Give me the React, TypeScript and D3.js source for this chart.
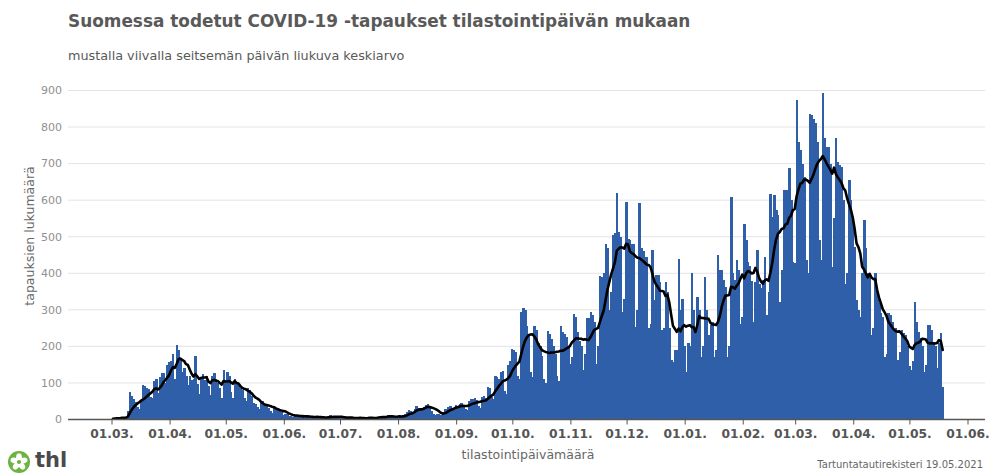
import * as d3 from "d3";

// daily cases by sampling date, one array per month
const mar20 = [2, 3, 4, 5, 6, 8, 5, 4, 22, 75, 64, 55, 48, 35, 30, 52, 95, 92, 86, 84, 62, 58, 104, 110, 72, 115, 127, 128, 100, 150, 158];
const apr20 = [160, 180, 110, 205, 190, 165, 130, 140, 120, 95, 118, 108, 112, 175, 98, 70, 115, 125, 108, 120, 92, 68, 118, 128, 110, 100, 85, 60, 136, 108];
const may20 = [130, 118, 75, 60, 110, 100, 95, 85, 80, 58, 50, 85, 80, 65, 45, 42, 35, 30, 45, 50, 40, 38, 32, 22, 18, 35, 28, 25, 22, 20, 12];
const jun20 = [15, 14, 10, 9, 7, 12, 11, 10, 9, 6, 5, 10, 9, 8, 7, 5, 4, 9, 7, 6, 5, 4, 3, 7, 12, 10, 9, 5, 4, 6];
const jul20 = [8, 5, 4, 3, 6, 5, 4, 3, 2, 5, 6, 4, 3, 2, 5, 7, 6, 4, 3, 6, 8, 10, 9, 6, 5, 12, 10, 8, 7, 5, 9];
const aug20 = [10, 8, 12, 15, 20, 25, 22, 18, 30, 38, 32, 28, 26, 35, 40, 42, 38, 22, 15, 12, 14, 16, 12, 20, 30, 28, 34, 38, 30, 26, 40];
const sep20 = [38, 42, 45, 40, 28, 26, 50, 56, 55, 58, 52, 36, 32, 62, 64, 60, 88, 85, 62, 55, 120, 116, 112, 130, 134, 78, 70, 150, 161, 193];
const oct20 = [190, 185, 120, 110, 295, 305, 300, 257, 230, 130, 115, 255, 245, 210, 200, 175, 110, 100, 243, 235, 220, 200, 180, 120, 105, 255, 238, 234, 225, 200, 152];
const nov20 = [170, 289, 280, 240, 215, 200, 135, 180, 277, 277, 295, 285, 268, 153, 200, 392, 389, 400, 480, 470, 300, 350, 505, 509, 620, 514, 500, 295, 330, 596];
const dec20 = [495, 490, 480, 481, 254, 300, 591, 468, 462, 445, 445, 249, 260, 463, 327, 395, 395, 377, 245, 250, 377, 350, 250, 163, 158, 190, 190, 438, 300, 330, 200];
const jan21 = [131, 208, 200, 400, 300, 236, 336, 300, 172, 200, 389, 300, 231, 258, 268, 172, 190, 450, 409, 409, 381, 363, 172, 200, 608, 400, 381, 436, 409, 260, 281];
const feb21 = [536, 491, 430, 420, 380, 268, 377, 464, 370, 360, 381, 445, 286, 350, 618, 555, 613, 573, 560, 322, 409, 628, 628, 628, 687, 600, 432, 427];
const mar21 = [873, 760, 737, 700, 664, 436, 400, 837, 833, 821, 810, 760, 491, 436, 894, 769, 746, 746, 700, 418, 550, 770, 705, 696, 690, 600, 372, 400, 656, 600, 546];
const apr21 = [473, 327, 300, 280, 400, 547, 468, 400, 392, 231, 250, 400, 340, 320, 290, 280, 172, 180, 290, 286, 268, 245, 250, 163, 185, 245, 236, 230, 200, 145];
const may21 = [135, 160, 322, 268, 240, 222, 200, 130, 150, 258, 258, 245, 213, 200, 140, 208, 236, 90];

const months: [number, number, number[]][] = [
  [2020, 2, mar20], [2020, 3, apr20], [2020, 4, may20], [2020, 5, jun20],
  [2020, 6, jul20], [2020, 7, aug20], [2020, 8, sep20], [2020, 9, oct20],
  [2020, 10, nov20], [2020, 11, dec20], [2021, 0, jan21], [2021, 1, feb21],
  [2021, 2, mar21], [2021, 3, apr21], [2021, 4, may21],
];

const yTicks = [0, 100, 200, 300, 400, 500, 600, 700, 800, 900];

const title = "Suomessa todetut COVID-19 -tapaukset tilastointipäivän mukaan";
const subtitle = "mustalla viivalla seitsemän päivän liukuva keskiarvo";
const yTitle = "tapauksien lukumäärä";
const xTitle = "tilastointipäivämäärä";
const source = "Tartuntatautirekisteri 19.05.2021";

const font = "DejaVu Sans, sans-serif";
const barColor = "#2f5fa8";

type Day = { date: Date; value: number; avg: number };

const days: Day[] = [];
months.forEach(([yr, mo, vals]) => {
  vals.forEach((v, i) => days.push({ date: new Date(Date.UTC(yr, mo, i + 1)), value: v, avg: 0 }));
});
// trailing 7 day mean
days.forEach((d, i) => {
  const win = days.slice(Math.max(0, i - 6), i + 1);
  d.avg = d3.mean(win, (w) => w.value) ?? 0;
});

const x = d3
  .scaleUtc()
  .domain([new Date(Date.UTC(2020, 2, 1)), new Date(Date.UTC(2021, 5, 1))])
  .range([112, 968]);
const y = d3.scaleLinear().domain([0, 900]).range([419.5, 90.5]);
const dayW = x(new Date(Date.UTC(2020, 2, 2))) - x(new Date(Date.UTC(2020, 2, 1)));

const monthTicks = d3.utcMonth.range(new Date(Date.UTC(2020, 2, 1)), new Date(Date.UTC(2021, 5, 2)));
const fmt = d3.utcFormat("%d.%m.");

const line = d3
  .line<Day>()
  .x((d) => x(d.date) + dayW / 2)
  .y((d) => y(d.avg));

export default function App() {
  return (
    <svg width={991} height={473} style={{ position: "absolute", left: 0, top: 0, background: "#fff" }} fontFamily={font}>
      <text x={68} y={27} fontSize={16.9} fontWeight="bold" fill="#595959">{title}</text>
      <text x={68} y={60} fontSize={12.8} fill="#595959">{subtitle}</text>

      {/* grid */}
      {yTicks.map((t) => (
        <g key={t}>
          {t > 0 && <line x1={68} x2={985} y1={y(t)} y2={y(t)} stroke="#e3e3e3" strokeWidth={1} />}
          <text x={62} y={y(t)} dy="0.35em" textAnchor="end" fontSize={11} fill="#909090">{t}</text>
        </g>
      ))}

      <text transform={`translate(34,236) rotate(-90)`} textAnchor="middle" fontSize={12.5} fill="#666">{yTitle}</text>

      {/* bars */}
      <g fill={barColor} shapeRendering="crispEdges">
        {days.map((d) => (
          <rect key={+d.date} x={x(d.date)} width={dayW + 0.6} y={y(d.value)} height={y(0) - y(d.value)} />
        ))}
      </g>

      <path d={line(days) ?? ""} fill="none" stroke="#000" strokeWidth={2.6} strokeLinejoin="round" strokeLinecap="round" />

      {/* x axis */}
      <line x1={68} x2={985} y1={y(0)} y2={y(0)} stroke="#555" strokeWidth={1.5} />
      {monthTicks.map((m) => (
        <g key={+m} transform={`translate(${x(m)},0)`}>
          <line y1={y(0)} y2={y(0) + 5} stroke="#555" strokeWidth={1} />
          <text y={437.5} textAnchor="middle" fontSize={12.3} fontWeight="bold" fill="#555">{fmt(m)}</text>
        </g>
      ))}
      <text x={528} y={459} textAnchor="middle" fontSize={12.5} fill="#666">{xTitle}</text>
      <text x={983} y={468} textAnchor="end" fontSize={10} fill="#666">{source}</text>

      {/* THL logo */}
      <g transform="translate(19,462)">
        <circle r={11} fill="#6cb33f" />
        {[0, 72, 144, 216, 288].map((a) => (
          <ellipse key={a} cx={0} cy={-4.8} rx={2.9} ry={4} fill="#fff" transform={`rotate(${a})`} />
        ))}
        <circle r={2.1} fill="#6cb33f" />
      </g>
      <text x={35} y={467} fontSize={21} fontWeight="bold" fill="#4a4a4a">thl</text>
    </svg>
  );
}
